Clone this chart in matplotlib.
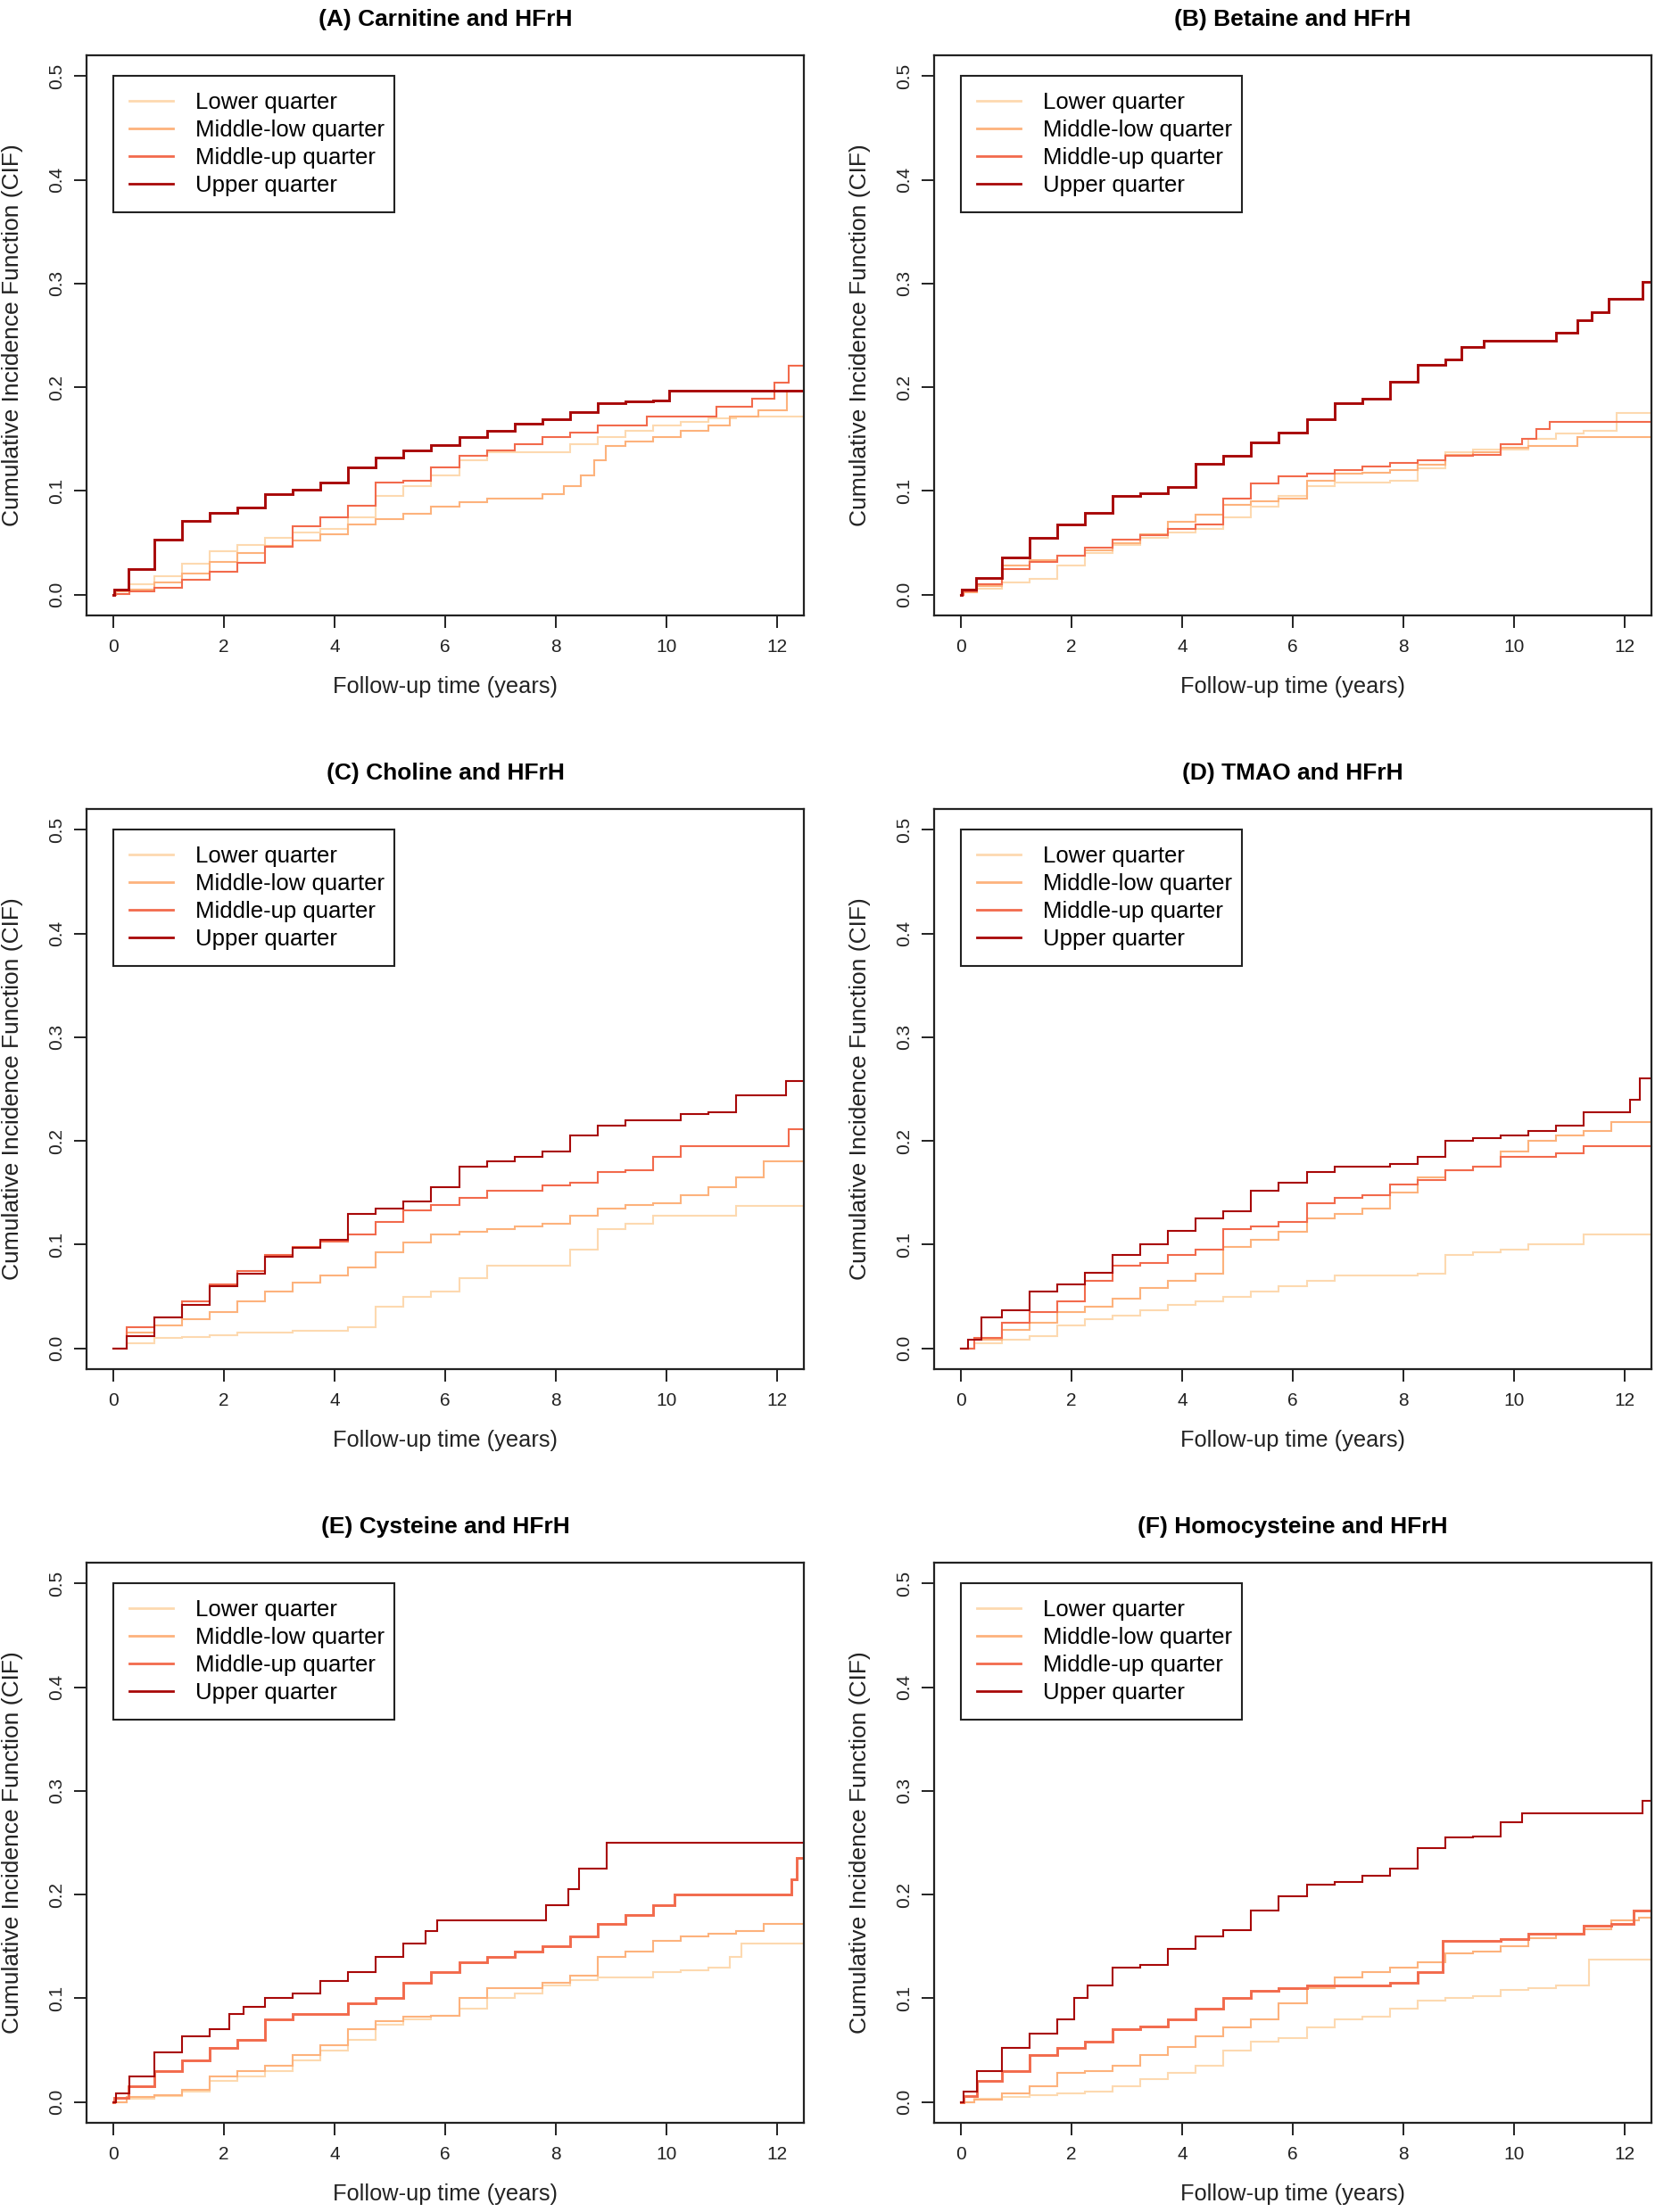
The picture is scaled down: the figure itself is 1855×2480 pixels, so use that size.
import matplotlib
matplotlib.use("Agg")
import matplotlib.pyplot as plt

plt.rcParams['font.family'] = ['Liberation Sans', 'DejaVu Sans']

# ---------------- data ----------------
titles = ["(A) Carnitine and HFrH", "(B) Betaine and HFrH",
          "(C) Choline and HFrH", "(D) TMAO and HFrH",
          "(E) Cysteine and HFrH", "(F) Homocysteine and HFrH"]
series_labels = ["Lower quarter", "Middle-low quarter", "Middle-up quarter", "Upper quarter"]
x_ticks = [0, 2, 4, 6, 8, 10, 12]
y_ticks = [0.0, 0.1, 0.2, 0.3, 0.4, 0.5]
y_tick_labels = ["0.0", "0.1", "0.2", "0.3", "0.4", "0.5"]
x_label = "Follow-up time (years)"
y_label = "Cumulative Incidence Function (CIF)"

grid = [0, 0.5, 1, 1.5, 2, 2.5, 3, 3.5, 4, 4.5, 5, 5.5, 6, 6.5, 7, 7.5, 8, 8.5, 9, 9.5, 10, 10.5, 11, 11.5, 12, 12.5]

# Panel A
A_low_t = [0, 0.1, 0.5, 1, 1.5, 2, 2.5, 3, 3.5, 4, 4.5, 5, 5.5, 6, 6.5, 7, 7.5, 8, 8.5, 9, 9.5, 10, 10.5, 11, 11.5, 12.5]
A_low_y = [0, 0.004, 0.01, 0.018, 0.03, 0.042, 0.048, 0.055, 0.06, 0.063, 0.075, 0.095, 0.105, 0.115, 0.13, 0.137, 0.137, 0.137, 0.145, 0.152, 0.158, 0.163, 0.167, 0.17, 0.172, 0.172]
A_mlow_t = [0, 0.1, 0.5, 1, 1.5, 2, 2.5, 3, 3.5, 4, 4.5, 5, 5.5, 6, 6.5, 7, 7.5, 8, 8.3, 8.6, 8.8, 9, 9.5, 10, 10.5, 11, 11.3, 12, 12.35, 12.5]
A_mlow_y = [0, 0.003, 0.005, 0.012, 0.02, 0.032, 0.04, 0.047, 0.052, 0.058, 0.068, 0.073, 0.078, 0.085, 0.089, 0.093, 0.093, 0.097, 0.105, 0.115, 0.13, 0.143, 0.148, 0.152, 0.158, 0.163, 0.172, 0.178, 0.197, 0.197]
A_mup_t = [0, 0.1, 0.5, 1, 1.5, 2, 2.5, 3, 3.5, 4, 4.5, 5, 5.5, 6, 6.5, 7, 7.5, 8, 8.5, 9, 9.5, 9.8, 10.5, 11.3, 11.8, 12.1, 12.3, 12.5]
A_mup_y = [0, 0.001, 0.003, 0.007, 0.014, 0.022, 0.031, 0.046, 0.066, 0.075, 0.086, 0.108, 0.11, 0.123, 0.134, 0.139, 0.145, 0.152, 0.156, 0.163, 0.163, 0.172, 0.172, 0.181, 0.189, 0.204, 0.221, 0.221]
A_up_t = [0, 0.05, 0.5, 1, 1.5, 2, 2.5, 3, 3.5, 4, 4.5, 5, 5.5, 6, 6.5, 7, 7.5, 8, 8.5, 9, 9.5, 10, 10.1, 12.5]
A_up_y = [0, 0.005, 0.025, 0.053, 0.071, 0.079, 0.084, 0.097, 0.101, 0.108, 0.123, 0.132, 0.139, 0.144, 0.152, 0.158, 0.165, 0.169, 0.176, 0.185, 0.186, 0.187, 0.197, 0.197]

# Panel B
B_low_t = [0, 0.1, 0.5, 1, 1.5, 2, 2.5, 3, 3.5, 4, 4.5, 5, 5.5, 6, 6.5, 7, 7.5, 8, 8.5, 9, 9.5, 10, 10.5, 11, 11.5, 12.2, 12.5]
B_low_y = [0, 0.002, 0.006, 0.012, 0.015, 0.028, 0.04, 0.048, 0.055, 0.06, 0.063, 0.075, 0.085, 0.095, 0.105, 0.108, 0.108, 0.11, 0.122, 0.137, 0.14, 0.14, 0.15, 0.155, 0.158, 0.175, 0.175]
B_mlow_t = [0, 0.1, 0.5, 1, 1.5, 2, 2.5, 3, 3.5, 4, 4.5, 5, 5.5, 6, 6.5, 7, 7.5, 8, 8.5, 9, 9.5, 10, 10.5, 11, 11.3, 12.5]
B_mlow_y = [0, 0.002, 0.008, 0.028, 0.033, 0.038, 0.043, 0.05, 0.058, 0.07, 0.077, 0.087, 0.09, 0.093, 0.11, 0.117, 0.118, 0.12, 0.125, 0.135, 0.137, 0.142, 0.143, 0.143, 0.152, 0.152]
B_mup_t = [0, 0.1, 0.5, 1, 1.5, 2, 2.5, 3, 3.5, 4, 4.5, 5, 5.5, 6, 6.5, 7, 7.5, 8, 8.5, 9, 9.5, 10, 10.3, 10.5, 10.8, 12.5]
B_mup_y = [0, 0.003, 0.01, 0.025, 0.032, 0.038, 0.045, 0.053, 0.057, 0.063, 0.068, 0.093, 0.107, 0.114, 0.117, 0.12, 0.124, 0.127, 0.13, 0.134, 0.135, 0.145, 0.15, 0.16, 0.167, 0.167]
B_up_t = [0, 0.05, 0.5, 1, 1.5, 2, 2.5, 3, 3.5, 4, 4.5, 5, 5.5, 6, 6.5, 7, 7.5, 8, 8.5, 9, 9.1, 9.8, 10.5, 11, 11.3, 11.5, 11.9, 12.3, 12.35, 12.5]
B_up_y = [0, 0.005, 0.016, 0.036, 0.055, 0.068, 0.079, 0.095, 0.098, 0.104, 0.126, 0.134, 0.147, 0.156, 0.169, 0.185, 0.189, 0.205, 0.222, 0.227, 0.239, 0.245, 0.245, 0.253, 0.265, 0.272, 0.285, 0.285, 0.302, 0.302]

# Panel C
C_low_y = [0, 0.005, 0.01, 0.011, 0.013, 0.015, 0.015, 0.017, 0.017, 0.02, 0.04, 0.05, 0.055, 0.068, 0.08, 0.08, 0.08, 0.095, 0.115, 0.12, 0.128, 0.128, 0.128, 0.137, 0.137, 0.137]
C_mlow_y = [0, 0.015, 0.022, 0.028, 0.035, 0.045, 0.055, 0.063, 0.07, 0.078, 0.093, 0.102, 0.11, 0.112, 0.115, 0.118, 0.12, 0.128, 0.135, 0.138, 0.14, 0.148, 0.155, 0.165, 0.18, 0.18]
C_mup_t = [0, 0.5, 1, 1.5, 2, 2.5, 3, 3.5, 4, 4.5, 5, 5.5, 6, 6.5, 7, 7.5, 8, 8.5, 9, 9.5, 10, 10.5, 11, 11.5, 12, 12.4, 12.5]
C_mup_y = [0, 0.02, 0.03, 0.045, 0.062, 0.075, 0.09, 0.098, 0.103, 0.11, 0.122, 0.133, 0.138, 0.145, 0.152, 0.152, 0.157, 0.16, 0.17, 0.172, 0.185, 0.195, 0.195, 0.195, 0.195, 0.211, 0.211]
C_up_t = [0, 0.5, 1, 1.5, 2, 2.5, 3, 3.5, 4, 4.5, 5, 5.5, 6, 6.5, 7, 7.5, 8, 8.5, 9, 9.5, 10, 10.5, 11, 11.5, 12, 12.3, 12.5]
C_up_y = [0, 0.012, 0.03, 0.042, 0.06, 0.072, 0.088, 0.097, 0.105, 0.13, 0.135, 0.142, 0.155, 0.175, 0.18, 0.185, 0.19, 0.205, 0.215, 0.22, 0.22, 0.226, 0.228, 0.244, 0.244, 0.258, 0.258]

# Panel D
D_low_y = [0, 0.005, 0.008, 0.012, 0.022, 0.028, 0.032, 0.037, 0.042, 0.045, 0.05, 0.055, 0.06, 0.065, 0.07, 0.07, 0.07, 0.072, 0.09, 0.093, 0.095, 0.1, 0.1, 0.11, 0.11, 0.11]
D_mlow_y = [0, 0.008, 0.018, 0.025, 0.035, 0.04, 0.048, 0.058, 0.065, 0.072, 0.098, 0.105, 0.112, 0.125, 0.13, 0.135, 0.15, 0.165, 0.172, 0.175, 0.19, 0.2, 0.205, 0.21, 0.218, 0.218]
D_mup_y = [0, 0.01, 0.025, 0.035, 0.045, 0.065, 0.08, 0.082, 0.09, 0.095, 0.115, 0.118, 0.122, 0.14, 0.145, 0.148, 0.158, 0.162, 0.172, 0.175, 0.185, 0.185, 0.188, 0.195, 0.195, 0.195]
D_up_t = [0, 0.25, 0.5, 1, 1.5, 2, 2.5, 3, 3.5, 4, 4.5, 5, 5.5, 6, 6.5, 7, 7.5, 8, 8.5, 9, 9.5, 10, 10.5, 11, 11.5, 12, 12.2, 12.35, 12.5]
D_up_y = [0, 0.008, 0.03, 0.037, 0.055, 0.062, 0.073, 0.09, 0.1, 0.113, 0.125, 0.132, 0.152, 0.16, 0.17, 0.175, 0.175, 0.178, 0.185, 0.2, 0.203, 0.205, 0.21, 0.215, 0.228, 0.228, 0.24, 0.26, 0.26]

# Panel E
E_low_t = [0, 0.5, 1, 1.5, 2, 2.5, 3, 3.5, 4, 4.5, 5, 5.5, 6, 6.5, 7, 7.5, 8, 8.5, 9, 9.5, 10, 10.5, 11, 11.3, 11.4, 12.5]
E_low_y = [0, 0.003, 0.006, 0.01, 0.02, 0.025, 0.03, 0.04, 0.05, 0.06, 0.075, 0.08, 0.083, 0.09, 0.1, 0.105, 0.112, 0.118, 0.12, 0.12, 0.125, 0.127, 0.13, 0.14, 0.153, 0.153]
E_mlow_y = [0, 0.005, 0.007, 0.012, 0.025, 0.03, 0.035, 0.045, 0.055, 0.07, 0.078, 0.082, 0.083, 0.1, 0.11, 0.11, 0.115, 0.122, 0.14, 0.145, 0.155, 0.16, 0.162, 0.165, 0.172, 0.172]
E_mup_t = [0, 0.05, 0.5, 1, 1.5, 2, 2.5, 3, 3.5, 4, 4.5, 5, 5.5, 6, 6.5, 7, 7.5, 8, 8.5, 9, 9.5, 10, 10.3, 12.2, 12.3, 12.4, 12.5]
E_mup_y = [0, 0.004, 0.015, 0.03, 0.04, 0.052, 0.06, 0.08, 0.085, 0.085, 0.095, 0.1, 0.115, 0.125, 0.135, 0.14, 0.145, 0.15, 0.16, 0.172, 0.18, 0.19, 0.2, 0.2, 0.215, 0.235, 0.235]
E_up_t = [0, 0.1, 0.5, 1, 1.5, 2, 2.2, 2.5, 3, 3.5, 4, 4.5, 5, 5.5, 5.8, 5.9, 7.8, 7.85, 8.2, 8.25, 8.4, 8.45, 8.9, 8.95, 12.5]
E_up_y = [0, 0.008, 0.025, 0.048, 0.063, 0.07, 0.085, 0.092, 0.1, 0.105, 0.117, 0.125, 0.14, 0.153, 0.165, 0.175, 0.175, 0.19, 0.19, 0.205, 0.205, 0.225, 0.225, 0.25, 0.25]

# Panel F
F_low_t = [0, 0.5, 1, 1.5, 2, 2.5, 3, 3.5, 4, 4.5, 5, 5.5, 6, 6.5, 7, 7.5, 8, 8.5, 9, 9.5, 10, 10.5, 11, 11.3, 11.4, 12.5]
F_low_y = [0, 0.003, 0.005, 0.007, 0.008, 0.01, 0.015, 0.022, 0.028, 0.035, 0.05, 0.058, 0.062, 0.072, 0.08, 0.082, 0.09, 0.098, 0.1, 0.102, 0.108, 0.11, 0.112, 0.112, 0.137, 0.137]
F_mlow_y = [0, 0.002, 0.008, 0.015, 0.028, 0.03, 0.035, 0.045, 0.053, 0.063, 0.072, 0.08, 0.095, 0.11, 0.12, 0.125, 0.13, 0.135, 0.143, 0.145, 0.15, 0.158, 0.162, 0.167, 0.175, 0.178]
F_mup_t = [0, 0.1, 0.5, 1, 1.5, 2, 2.5, 3, 3.5, 4, 4.5, 5, 5.5, 6, 6.5, 7, 7.5, 8, 8.5, 8.9, 9.5, 10, 10.5, 11, 11.5, 12, 12.3, 12.5]
F_mup_y = [0, 0.006, 0.02, 0.03, 0.045, 0.052, 0.058, 0.07, 0.073, 0.08, 0.09, 0.1, 0.107, 0.11, 0.112, 0.112, 0.112, 0.115, 0.125, 0.155, 0.155, 0.157, 0.162, 0.162, 0.17, 0.172, 0.185, 0.185]
F_up_t = [0, 0.1, 0.5, 1, 1.5, 2, 2.1, 2.5, 3, 3.5, 4, 4.5, 5, 5.5, 6, 6.5, 7, 7.5, 8, 8.5, 9, 9.5, 10, 10.3, 12.3, 12.35, 12.5]
F_up_y = [0, 0.01, 0.03, 0.052, 0.066, 0.08, 0.1, 0.112, 0.13, 0.132, 0.148, 0.16, 0.166, 0.185, 0.198, 0.21, 0.212, 0.218, 0.225, 0.245, 0.255, 0.256, 0.27, 0.278, 0.278, 0.29, 0.29]

panels = [
    [(A_low_t, A_low_y), (A_mlow_t, A_mlow_y), (A_mup_t, A_mup_y), (A_up_t, A_up_y)],
    [(B_low_t, B_low_y), (B_mlow_t, B_mlow_y), (B_mup_t, B_mup_y), (B_up_t, B_up_y)],
    [(grid, C_low_y), (grid, C_mlow_y), (C_mup_t, C_mup_y), (C_up_t, C_up_y)],
    [(grid, D_low_y), (grid, D_mlow_y), (grid, D_mup_y), (D_up_t, D_up_y)],
    [(E_low_t, E_low_y), (grid, E_mlow_y), (E_mup_t, E_mup_y), (E_up_t, E_up_y)],
    [(F_low_t, F_low_y), (grid, F_mlow_y), (F_mup_t, F_mup_y), (F_up_t, F_up_y)],
]

# ---------------- style ----------------
colors = ["#FDD9B0", "#FDB27C", "#F26A4C", "#A80808"]
emphasis = [3, 3, None, None, 2, 2]   # series drawn a bit heavier in each panel

W, H = 1856, 2480
fig = plt.figure(figsize=(W / 100, H / 100), dpi=100)

ax_w, ax_h = 804, 628
lefts = [97, 1047]
tops = [62, 907, 1752]

for i, (title, data) in enumerate(zip(titles, panels)):
    r, c = divmod(i, 2)
    left = lefts[c]
    top = tops[r]
    ax = fig.add_axes([left / W, 1 - (top + ax_h) / H, ax_w / W, ax_h / H])
    for k, ((t, y), col, lab) in enumerate(zip(data, colors, series_labels)):
        lw = 2.1 if emphasis[i] == k else 1.5
        ax.step(t, y, where='mid', color=col, lw=lw, label=lab, solid_joinstyle='miter')
    ax.set_xlim(-0.48, 12.48)
    ax.set_ylim(-0.02, 0.52)
    ax.set_xticks(x_ticks)
    ax.set_xticklabels([str(v) for v in x_ticks])
    ax.set_yticks(y_ticks)
    ax.set_yticklabels(y_tick_labels, rotation=90, va='center')
    ax.tick_params(axis='both', direction='out', length=10, width=1.4,
                   labelsize=15, colors='#222222')
    ax.tick_params(axis='x', pad=9)
    ax.tick_params(axis='y', pad=7)
    for s in ax.spines.values():
        s.set_linewidth(1.6)
        s.set_color('#222222')
    ax.set_title(title, fontsize=19, fontweight='bold', pad=24)
    ax.set_xlabel(x_label, fontsize=18.3, color='#222222')
    ax.set_ylabel(y_label, fontsize=19, color='#222222')
    ax.xaxis.set_label_coords(0.5, -0.108)
    ax.yaxis.set_label_coords(-0.088, 0.5)

    leg = ax.legend(loc='upper left', bbox_to_anchor=(0.0373, 0.7182, 0.3918, 0.2452),
                    mode='expand', borderaxespad=0, fontsize=18.5, frameon=True,
                    fancybox=False, framealpha=1, edgecolor='#222222',
                    handlelength=1.9, handletextpad=0.95, labelspacing=0.26,
                    borderpad=0.72)
    leg.get_frame().set_linewidth(1.5)
    for line in leg.get_lines():
        line.set_linewidth(2.0)

fig.savefig("out.png", dpi=100, facecolor='white')
